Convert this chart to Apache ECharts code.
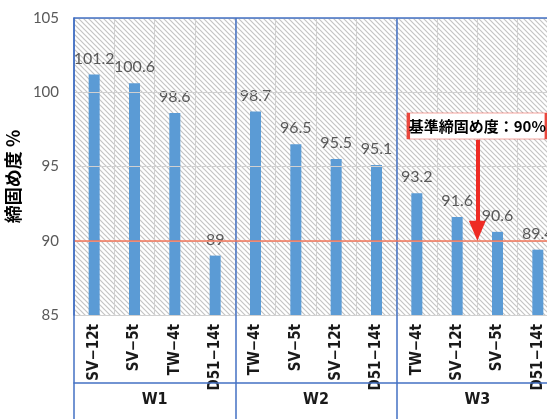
<!DOCTYPE html>
<html><head><meta charset="utf-8">
<script src="https://cdn.jsdelivr.net/npm/echarts@6/dist/echarts.min.js"></script>
<style>html,body{margin:0;padding:0;background:#fff}#c{width:547px;height:419px}</style>
</head><body><div id="c"></div>
<script>
// ---- data ----
const categories = ['SV−12t','SV−5t','TW−4t','D51−14t','TW−4t','SV−5t','SV−12t','D51−14t','TW−4t','SV−12t','SV−5t','D51−14t'];
const groups = ['W1','W2','W3'];
const values = [101.2,100.6,98.6,89,98.7,96.5,95.5,95.1,93.2,91.6,90.6,89.4];
const yMin = 85, yMax = 105, yStep = 5;
const standardValue = 90;
const annotationText = '基準締固め度：90%';
const annotationX = 10;      // boundary between SV−12t and SV−5t of W3 (category units)
const annotationBoxY = 97.73;
const arrowStartY = 96.8;
const arrowEndY = 90.67;

// ---- styles ----
const NARROW = "'Liberation Sans Narrow','DejaVu Sans Condensed',sans-serif";
const NUM = "Lato, 'Open Sans', sans-serif";
const CJK = "'Noto Sans CJK JP','Noto Sans CJK SC',sans-serif";
const BLUE = '#4472C4';

const pc = document.createElement('canvas'); pc.width = 5; pc.height = 5;
const g = pc.getContext('2d');
g.fillStyle = '#ffffff'; g.fillRect(0,0,5,5);
g.strokeStyle = '#c4c4c4'; g.lineWidth = 1.2;
g.beginPath();
g.moveTo(-1,-1); g.lineTo(6,6);
g.moveTo(-1,4); g.lineTo(1,6);
g.moveTo(4,-1); g.lineTo(6,1);
g.stroke();

const chart = echarts.init(document.getElementById('c'), null, {renderer:'canvas'});
chart.setOption({
  animation: false,
  backgroundColor: '#ffffff',
  grid: {left:74, top:18, width:484, height:297, show:true, borderWidth:0,
         outerBoundsMode:'none', containLabel:false,
         backgroundColor:{image:pc, repeat:'repeat'}},
  xAxis: [
    {type:'category', data:categories, position:'bottom',
     axisLine:{show:false}, axisTick:{show:false},
     splitLine:{show:true, interval:0, lineStyle:{color:'#d0d0d0', width:1}},
     axisLabel:{interval:0, rotate:90, margin:9, fontFamily:NARROW, fontSize:15, fontWeight:'bold', color:'#1a1a1a'}},
    {type:'category', data:groups, position:'bottom', z:5,
     axisLine:{show:false},
     axisTick:{show:true, length:110, lineStyle:{color:BLUE, width:1.5}},
     splitLine:{show:true, interval:0, lineStyle:{color:BLUE, width:1.5}},
     axisLabel:{interval:0, margin:77, fontFamily:NARROW, fontSize:16, fontWeight:'bold', color:'#1a1a1a'}},
    {type:'category', data:groups, position:'bottom', offset:68, z:5,
     axisLine:{show:true, lineStyle:{color:BLUE, width:1.5}},
     axisTick:{show:false}, axisLabel:{show:false}, splitLine:{show:false}},
    {type:'value', min:0, max:categories.length, show:false},
    {type:'category', data:groups, position:'top', z:5,
     axisLine:{show:true, lineStyle:{color:BLUE, width:1.5}},
     axisTick:{show:false}, axisLabel:{show:false}, splitLine:{show:false}}
  ],
  yAxis: {type:'value', min:yMin, max:yMax, interval:yStep, z:5,
    axisLine:{show:true, lineStyle:{color:BLUE, width:1.5}},
    axisTick:{show:false},
    splitLine:{show:true, lineStyle:{color:'#d0d0d0', width:1}},
    axisLabel:{fontFamily:NUM, fontSize:15, color:'#595959', margin:15},
    name:'締固め度 %', nameLocation:'middle', nameGap:38, nameRotate:90,
    nameTextStyle:{fontFamily:CJK, fontWeight:'bold', fontSize:18, color:'#000', padding:[0,20,0,0]}
  },
  series: [
    {type:'scatter', xAxisIndex:3, yAxisIndex:0, data:[], z:1, silent:true,
     markLine:{silent:true, symbol:['none','none'], label:{show:false},
       lineStyle:{color:'#F4775B', width:1.5, type:'solid'},
       data:[{yAxis:standardValue}]}},
    {type:'bar', data:values, xAxisIndex:0, yAxisIndex:0, barWidth:11, z:2,
     itemStyle:{color:'#5B9BD5'},
     label:{show:true, position:'top', distance:8, fontFamily:NUM, fontSize:16, color:'#595959'}},
    {type:'scatter', xAxisIndex:3, yAxisIndex:0, data:[], z:10, silent:true,
     markLine:{silent:true, symbol:['none','none'], label:{show:false},
       lineStyle:{color:'#EE2B24', width:4, type:'solid'},
       data:[[{coord:[annotationX, arrowStartY], symbol:'none'},
              {coord:[annotationX, arrowEndY], symbol:'triangle', symbolSize:[17,20]}]]},
     markPoint:{silent:true,
       data:[{coord:[annotationX, annotationBoxY], symbol:'rect', symbolSize:[138,26],
         itemStyle:{color:'#ffffff', borderColor:'#E9473D', borderWidth:1.5},
         label:{show:true, position:'inside', formatter:annotationText,
           fontFamily:CJK, fontWeight:'bold', fontSize:15, color:'#000'}}]}}
  ]
});
</script></body></html>
